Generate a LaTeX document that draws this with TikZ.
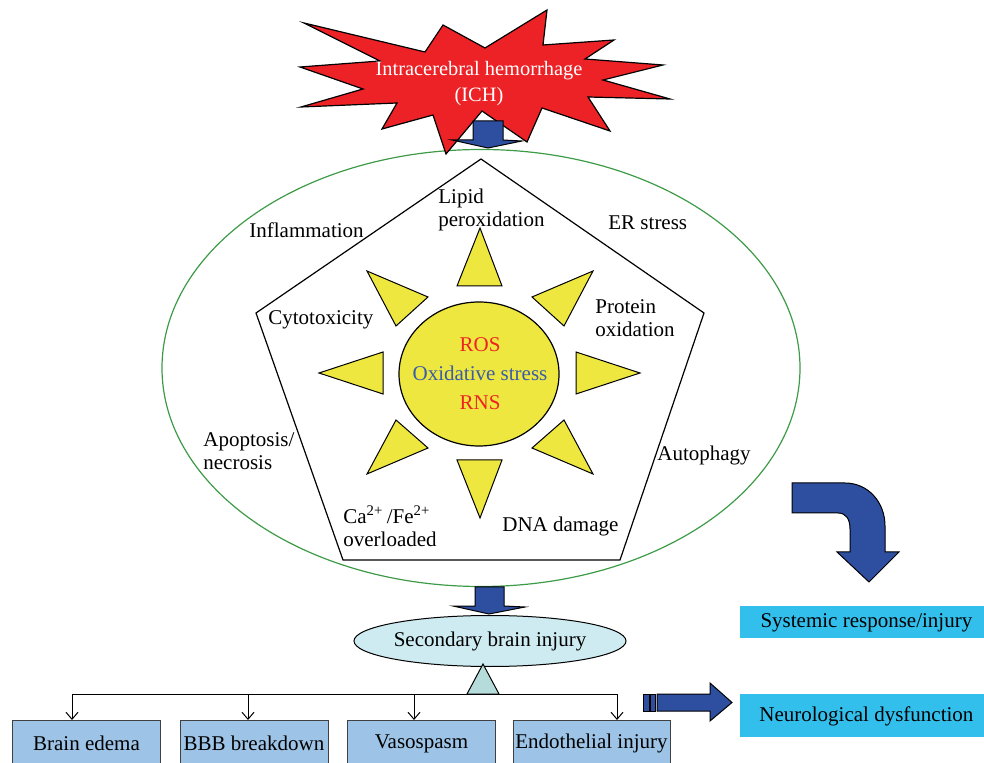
\documentclass[tikz,border=0pt]{standalone}
\usepackage{fontspec}
\setmainfont{Liberation Serif}
\usetikzlibrary{shapes.geometric,arrows.meta}
\definecolor{starred}{HTML}{ED2227}
\definecolor{arrowblue}{HTML}{2E4FA0}
\definecolor{ringgreen}{HTML}{3D9B48}
\definecolor{sunyellow}{HTML}{EDE73F}
\definecolor{rosred}{HTML}{EE2424}
\definecolor{oxblue}{HTML}{3B5CA8}
\definecolor{secfill}{HTML}{CDEBF1}
\definecolor{trifill}{HTML}{B5DCDB}
\definecolor{boxfill}{HTML}{9DC3E6}
\definecolor{cyanfill}{HTML}{33BFEC}
\begin{document}
\begin{tikzpicture}[x=0.5pt,y=-0.5pt,
  every node/.style={font=\fontsize{10.5}{11.5}\selectfont},
  lbl/.style={anchor=west, inner sep=0pt, align=left},
  blockarrow/.style={fill=arrowblue, draw=black, line width=0.5pt, line join=miter},
  ray/.style={fill=sunyellow, draw=black, line width=0.5pt, line join=miter},
  bbox/.style={draw=black!75, fill=boxfill, line width=0.5pt, minimum height=23pt, anchor=north west, inner sep=0pt},
  cbox/.style={fill=cyanfill, minimum width=126pt, anchor=north west, inner sep=0pt},
  tip/.style={-{Straight Barb[length=3.5pt,width=6pt]}, line width=0.5pt}]
\useasboundingbox (0,0) rectangle (984,763);
\clip (0,0) rectangle (984,763);

% outer ring
\node[ellipse, draw=ringgreen, line width=0.6pt, minimum width=319pt, minimum height=218.5pt, inner sep=0pt] (field) at (481,368) {};

% pentagon
\coordinate (pT) at (481,159);
\coordinate (pR) at (704,313);
\coordinate (pBR) at (620,560);
\coordinate (pBL) at (343,560);
\coordinate (pL) at (256,313);
\draw[line width=0.6pt, line join=miter] (pT) -- (pR) -- (pBR) -- (pBL) -- (pL) -- cycle;

% starburst
\filldraw[fill=starred, draw=black, line width=0.6pt, line join=miter]
  (304,23) -- (425,52) -- (443,25) -- (485,48) -- (547,10) -- (543,45)
  -- (614,40) -- (585,59) -- (663,65) -- (603,80) -- (670,99) -- (588,97)
  -- (610,131) -- (542,108) -- (527,142) -- (482,111) -- (446,154) -- (433,115)
  -- (382,129) -- (397,103) -- (301,107) -- (363,89) -- (300,67) -- (380,61) -- cycle;
\node[text=white, align=center, font=\fontsize{10.2}{13}\selectfont] (ich) at (479,84) {Intracerebral hemorrhage\\(ICH)};

% arrow ICH -> ring
\draw[blockarrow] (473,121) -- (503,121) -- (503,140) -- (522,141) -- (488,148) -- (452,140) -- (473,140) -- cycle;

% sun rays
\draw[ray] (480,228) -- (502,286) -- (457,286) -- cycle;
\draw[ray] (640,373) -- (576,394) -- (576,352) -- cycle;
\draw[ray] (319,373) -- (383,352) -- (383,394) -- cycle;
\draw[ray] (480,518) -- (457,460) -- (502,460) -- cycle;
\draw[ray] (367,271) -- (428,297) -- (396,326) -- cycle;
\draw[ray] (593,271) -- (532,297) -- (564,326) -- cycle;
\draw[ray] (396,420) -- (428,448) -- (367,474) -- cycle;
\draw[ray] (564,420) -- (532,448) -- (593,474) -- cycle;

% sun
\node[ellipse, draw=black, fill=sunyellow, line width=0.6pt, minimum width=80pt, minimum height=72pt, inner sep=0pt] (sun) at (479,374) {};
\node[text=rosred] (ros) at (480,345) {ROS};
\node[text=oxblue] (ox) at (480,373) {Oxidative stress};
\node[text=rosred] (rns) at (480,403) {RNS};

% labels
\node[lbl] (lipid) at (438,210) {Lipid\\peroxidation};
\node[lbl] (infl) at (249,230) {Inflammation};
\node[lbl] (er) at (608,223) {ER stress};
\node[lbl] (cyto) at (268,320) {Cytotoxicity};
\node[lbl] (prot) at (595,318) {Protein\\oxidation};
\node[lbl] (apop) at (203,451) {Apoptosis/\\necrosis};
\node[lbl] (auto) at (657,455) {Autophagy};
\node[lbl] (cafe) at (343,526) {Ca\textsuperscript{2+}\,/Fe\textsuperscript{2+}\\overloaded};
\node[lbl] (dna) at (502,526) {DNA damage};

% arrow ring -> secondary
\draw[blockarrow] (475,587) -- (504,587) -- (504,606) -- (525,607) -- (489,614) -- (453,606) -- (475,606) -- cycle;

% secondary brain injury
\node[ellipse, draw=black, fill=secfill, line width=0.5pt, minimum width=136pt, minimum height=25.5pt, inner sep=0pt] (sec) at (490,641) {};
\node (sectext) at (sec) {Secondary brain injury};

% hub triangle and bus
\coordinate (hub) at (483,694);
\filldraw[fill=trifill, draw=black, line width=0.5pt] (483,664) -- (499,694) -- (467,694) -- cycle;
\coordinate (a1) at (72,694);
\coordinate (a2) at (248,694);
\coordinate (a3) at (414,694);
\coordinate (a4) at (617,694);
\draw[line width=0.5pt] (a1) -- (a4);

% boxes
\node[bbox, minimum width=74pt] (b1) at (12,720) {Brain edema};
\node[bbox, minimum width=74pt] (b2) at (179.5,720) {BBB breakdown};
\node[bbox, minimum width=74pt] (b3) at (347,720) {Vasospasm};
\node[bbox, minimum width=78.5pt] (b4) at (512.5,720) {Endothelial injury};

\draw[tip] (a1) -- (a1 |- b1.north);
\draw[tip] (a2) -- (a2 |- b2.north);
\draw[tip] (a3) -- (a3 |- b3.north);
\draw[tip] (a4) -- (a4 |- b4.north);

% right side boxes
\node[cbox, minimum height=16pt] (sys) at (740,606) {Systemic response/injury};
\node[cbox, minimum height=21.5pt] (neuro) at (740,694) {Neurological dysfunction};

% bent arrow
\draw[blockarrow] (792,483) -- (845,483) .. controls (868,483) and (885,502) .. (885,526)
  -- (885,552) -- (899,552) -- (869,582) -- (837,552) -- (850,552) -- (850,529)
  .. controls (850,519) and (846,513) .. (838,513) -- (792,513) -- cycle;

% right arrow with stripes
\draw[blockarrow] (643,694) rectangle (649,711);
\draw[blockarrow] (650,694) rectangle (655,711);
\draw[blockarrow] (657,694) -- (710,694) -- (710,683) -- (732,702.5) -- (710,721) -- (710,711) -- (657,711) -- cycle;
\end{tikzpicture}
\end{document}
